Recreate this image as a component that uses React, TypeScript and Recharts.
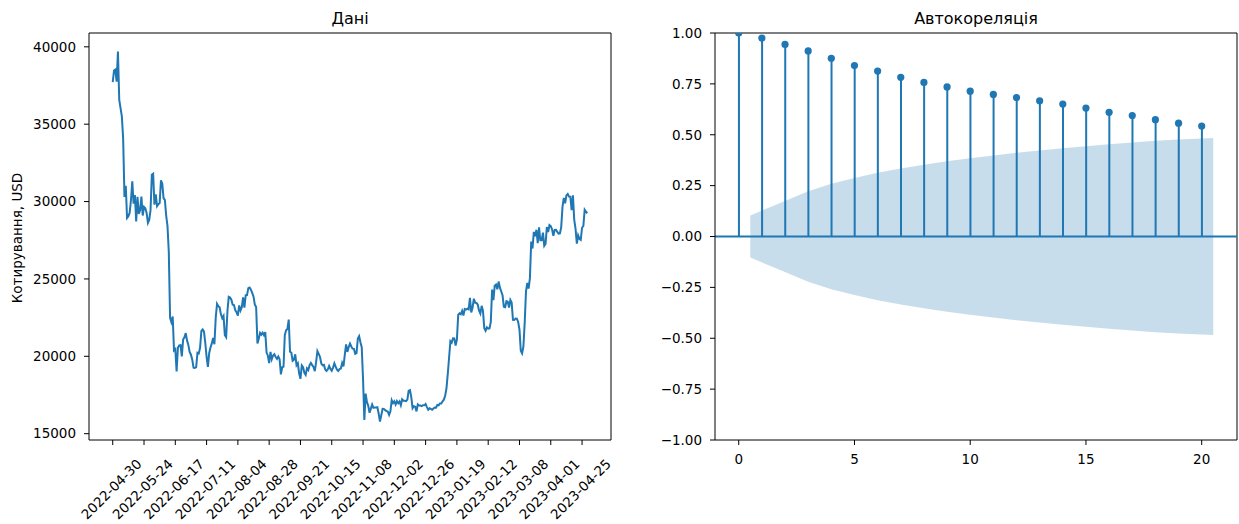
import React from 'react';
import { ComposedChart, Line, XAxis, YAxis, Area, Bar, ReferenceLine } from 'recharts';

// ---------- Left panel: daily closing quotes, 2022-04-30 .. 2023-04-29 ----------
const prices: number[] = [
  // 2022-04-30
  37714,
  // May 2022
  38469, 38529, 37750, 39698, 36575, 36040, 35501, 34059, 30296, 31022,
  28936, 29047, 29283, 30101, 31305, 29862, 30425, 28720, 30314, 29200,
  29432, 30323, 29098, 29655, 29562, 29267, 28627, 28814, 29445, 31726, 31792,
  // Jun 2022
  29799, 30467, 29704, 29833, 29907, 31370, 31155, 30215, 30112, 29084,
  28425, 26762, 22487, 22206, 22573, 20381, 20471, 19017, 20554, 20711,
  20723, 19988, 21085, 21231, 21502, 21028, 20735, 20281, 20104, 19785,
  // Jul 2022
  19269, 19243, 19297, 20231, 20190, 20548, 21637, 21731, 21592, 20860,
  19970, 19323, 20212, 20569, 20836, 21190, 20779, 22485, 23389, 23231,
  23165, 22714, 22465, 22609, 21361, 21239, 22930, 23843, 23804, 23656, 23336,
  // Aug 2022
  23314, 22978, 22846, 22630, 23289, 22961, 23175, 23810, 23149, 23954,
  23957, 24403, 24441, 24305, 24094, 23854, 23342, 23191, 20834, 21140,
  21516, 21399, 21529, 21369, 21560, 20241, 20038, 19555, 20285, 19811, 20050,
  // Sep 2022
  20131, 19951, 19832, 19987, 19813, 18838, 19290, 19330, 21381, 21680,
  21769, 22371, 20297, 20241, 19702, 19773, 20127, 19419, 19545, 18891,
  18547, 19414, 19297, 18937, 18803, 19222, 19110, 19426, 19573, 19431,
  // Oct 2022
  19312, 19044, 19623, 20337, 20160, 19956, 19531, 19417, 19446, 19141,
  19051, 19157, 19382, 19185, 19068, 19268, 19550, 19334, 19139, 19053,
  19172, 19208, 19567, 19345, 20095, 20771, 20285, 20595, 20818, 20635, 20495,
  // Nov 2022
  20485, 20160, 20209, 21148, 21300, 20905, 20592, 18541, 15880, 17586,
  17034, 16799, 16353, 16619, 16884, 16669, 16688, 16697, 16712, 16291,
  15787, 16190, 16610, 16604, 16522, 16458, 16428, 16213, 16442, 17164,
  // Dec 2022
  16978, 17092, 16885, 17105, 16967, 17089, 16837, 17224, 17129, 17128,
  17104, 17206, 17782, 17816, 17364, 16648, 16777, 16739, 16438, 16896,
  16825, 16821, 16779, 16836, 16832, 16920, 16717, 16552, 16642, 16602, 16547,
  // Jan 2023
  16625, 16688, 16680, 16863, 16836, 16951, 16955, 17091, 17197, 17446,
  17934, 18869, 19909, 20977, 20880, 21169, 21161, 20688, 21086, 22677,
  22777, 22721, 22934, 22637, 23058, 23019, 23078, 23032, 23774, 22840, 23139,
  // Feb 2023
  23723, 23471, 23449, 23331, 22956, 22760, 23264, 22939, 21819, 21651,
  21870, 21788, 21808, 22220, 24307, 23624, 24565, 24641, 24327, 24829,
  24436, 24188, 23947, 23198, 23175, 23561, 23522, 23147,
  // Mar 2023
  23646, 23475, 22362, 22354, 22436, 22430, 22219, 21718, 20363, 20187,
  20633, 22163, 24197, 24746, 24375, 25052, 27423, 26965, 28038, 27767,
  28175, 27308, 28333, 27493, 27494, 27994, 27139, 27268, 28348, 28033, 28478,
  // Apr 2023 (1..29)
  28411, 28199, 27790, 28168, 28177, 28044, 27925, 27947, 28333, 29653,
  30235, 29892, 30400, 30485, 30319, 30316, 29445, 30397, 28823, 28245,
  27276, 27817, 27591, 27525, 28307, 28422, 29473, 29340, 29248,
];

// day offsets (from 2022-04-30) where date ticks sit, and their labels
const dateTickDays: number[] = [0, 24, 48, 72, 96, 120, 144, 168, 192, 216, 240, 264, 288, 312, 336, 360];
const dateTickLabels: string[] = [
  '2022-04-30', '2022-05-24', '2022-06-17', '2022-07-11', '2022-08-04', '2022-08-28',
  '2022-09-21', '2022-10-15', '2022-11-08', '2022-12-02', '2022-12-26', '2023-01-19',
  '2023-02-12', '2023-03-08', '2023-04-01', '2023-04-25',
];
const priceTicks: number[] = [15000, 20000, 25000, 30000, 35000, 40000];

// ---------- Right panel: autocorrelation ----------
const acfLags: number[] = [0, 1, 2, 3, 4, 5, 6, 7, 8, 9, 10, 11, 12, 13, 14, 15, 16, 17, 18, 19, 20];
const acfValues: number[] = [
  1.0, 0.975, 0.944, 0.912, 0.876, 0.840, 0.813, 0.782, 0.757, 0.735, 0.714,
  0.698, 0.683, 0.667, 0.651, 0.631, 0.610, 0.594, 0.574, 0.557, 0.543,
];
const bandLags: number[] = [0.5, 2, 3, 4, 5, 6, 7, 8, 9, 10, 11, 12, 13, 14, 15, 16, 17, 18, 19, 20.5];
const bandUpper: number[] = [
  0.103, 0.175, 0.222, 0.259, 0.288, 0.313, 0.334, 0.353, 0.370, 0.385,
  0.398, 0.411, 0.423, 0.434, 0.444, 0.453, 0.462, 0.470, 0.477, 0.484,
];
const bandLower: number[] = [
  -0.103, -0.175, -0.222, -0.259, -0.288, -0.313, -0.334, -0.353, -0.370, -0.385,
  -0.398, -0.411, -0.423, -0.434, -0.444, -0.453, -0.462, -0.470, -0.477, -0.484,
];
const acfTicksX: number[] = [0, 5, 10, 15, 20];
const acfTicksY: number[] = [-1, -0.75, -0.5, -0.25, 0, 0.25, 0.5, 0.75, 1];

// ---------- tables ----------
const priceData = prices.map((p, i) => ({ day: i, price: p }));
const acfData = acfLags.map((l, i) => ({ lag: l, acf: acfValues[i] }));
const bandData = bandLags.map((l, i) => ({ lag: l, band: [bandLower[i], bandUpper[i]] }));

// matplotlib-like 5% autoscale margins
const pMin = Math.min(...prices);
const pMax = Math.max(...prices);
const pPad = (pMax - pMin) * 0.05;
const dPad = (prices.length - 1) * 0.05;
const dayDomain: [number, number] = [-dPad, prices.length - 1 + dPad];
const priceDomain: [number, number] = [pMin - pPad, pMax + pPad];
const lagMin = bandLags[0] < acfLags[0] ? bandLags[0] : acfLags[0];
const lagMax = bandLags[bandLags.length - 1];
const lPad = (lagMax - lagMin) * 0.05;
const lagDomain: [number, number] = [lagMin - lPad, lagMax + lPad];
const acfDomain: [number, number] = [-1, 1];

const C0 = '#1f77b4';
const FONT = "'DejaVu Sans', sans-serif";
const FS = 13.5;
const tickStyle = { fill: '#000', fontSize: FS, fontFamily: FONT };
const lineStyle = { stroke: '#000', strokeWidth: 1 };

const fmtMinus = (v: number) => v.toFixed(2).replace('-', '\u2212');

const DateTick = (props: any) => {
  const { x, y, payload } = props;
  const idx = dateTickDays.indexOf(payload.value);
  const label = idx >= 0 ? dateTickLabels[idx] : String(payload.value);
  const cx = x - 1.5;
  const cy = y + 42;
  return (
    <text
      x={cx}
      y={cy}
      transform={`rotate(-45, ${cx}, ${cy})`}
      textAnchor="middle"
      dominantBaseline="central"
      fontSize={FS}
      fontFamily={FONT}
      fill="#000"
    >
      {label}
    </text>
  );
};

export default function App() {
  return (
    <div style={{ position: 'absolute', left: 0, top: 0, width: 1239, height: 524, background: '#fff' }}>
      <div style={{ position: 'absolute', left: 0, top: 0 }}>
        <ComposedChart
          width={620}
          height={524}
          data={priceData}
          margin={{ top: 33, right: 9, bottom: 0, left: 0 }}
        >
          <XAxis
            dataKey="day"
            type="number"
            domain={dayDomain}
            allowDataOverflow
            ticks={dateTickDays}
            interval={0}
            height={84}
            tickSize={5}
            tickMargin={2}
            tick={<DateTick />}
            tickLine={lineStyle}
            axisLine={lineStyle}
          />
          <YAxis
            type="number"
            domain={priceDomain}
            allowDataOverflow
            ticks={priceTicks}
            interval={0}
            width={89}
            tickSize={5}
            tickMargin={8}
            tick={tickStyle}
            tickLine={lineStyle}
            axisLine={lineStyle}
          />
          <ReferenceLine y={priceDomain[1]} stroke="#000" strokeWidth={1} ifOverflow="visible" />
          <ReferenceLine x={dayDomain[1]} stroke="#000" strokeWidth={1} ifOverflow="visible" />
          <Line
            dataKey="price"
            type="linear"
            stroke={C0}
            strokeWidth={2}
            dot={false}
            activeDot={false}
            isAnimationActive={false}
          />
        </ComposedChart>
      </div>
      <div style={{ position: 'absolute', left: 620, top: 0 }}>
        <ComposedChart
          width={619}
          height={524}
          data={acfData}
          margin={{ top: 33, right: 2, bottom: 0, left: 0 }}
        >
          <XAxis
            dataKey="lag"
            type="number"
            domain={lagDomain}
            allowDataOverflow
            ticks={acfTicksX}
            interval={0}
            height={84}
            tickSize={5}
            tickMargin={9}
            tick={tickStyle}
            tickLine={lineStyle}
            axisLine={lineStyle}
          />
          <YAxis
            type="number"
            domain={acfDomain}
            allowDataOverflow
            ticks={acfTicksY}
            interval={0}
            width={95}
            tickSize={5}
            tickMargin={8}
            tick={tickStyle}
            tickFormatter={fmtMinus}
            tickLine={lineStyle}
            axisLine={lineStyle}
          />
          <ReferenceLine y={acfDomain[1]} stroke="#000" strokeWidth={1} ifOverflow="visible" />
          <ReferenceLine x={lagDomain[1]} stroke="#000" strokeWidth={1} ifOverflow="visible" />
          <Bar dataKey="acf" barSize={2} fill={C0} isAnimationActive={false} />
          <ReferenceLine y={0} stroke={C0} strokeWidth={2} />
          <Line
            dataKey="acf"
            stroke="none"
            dot={{ r: 3.6, fill: C0, stroke: 'none' }}
            activeDot={false}
            isAnimationActive={false}
          />
          <Area
            data={bandData}
            dataKey="band"
            type="linear"
            stroke="none"
            fill={C0}
            fillOpacity={0.25}
            isAnimationActive={false}
          />
        </ComposedChart>
      </div>
      <svg
        width={1239}
        height={524}
        style={{ position: 'absolute', left: 0, top: 0, pointerEvents: 'none' }}
      >
        <text x={350} y={24} textAnchor="middle" fontSize={16} fontFamily={FONT} fill="#000">
          Дані
        </text>
        <text x={976} y={24} textAnchor="middle" fontSize={16} fontFamily={FONT} fill="#000">
          Автокореляція
        </text>
        <text
          transform="translate(22, 238) rotate(-90)"
          textAnchor="middle"
          fontSize={FS}
          fontFamily={FONT}
          fill="#000"
        >
          Котирування, USD
        </text>
      </svg>
    </div>
  );
}
